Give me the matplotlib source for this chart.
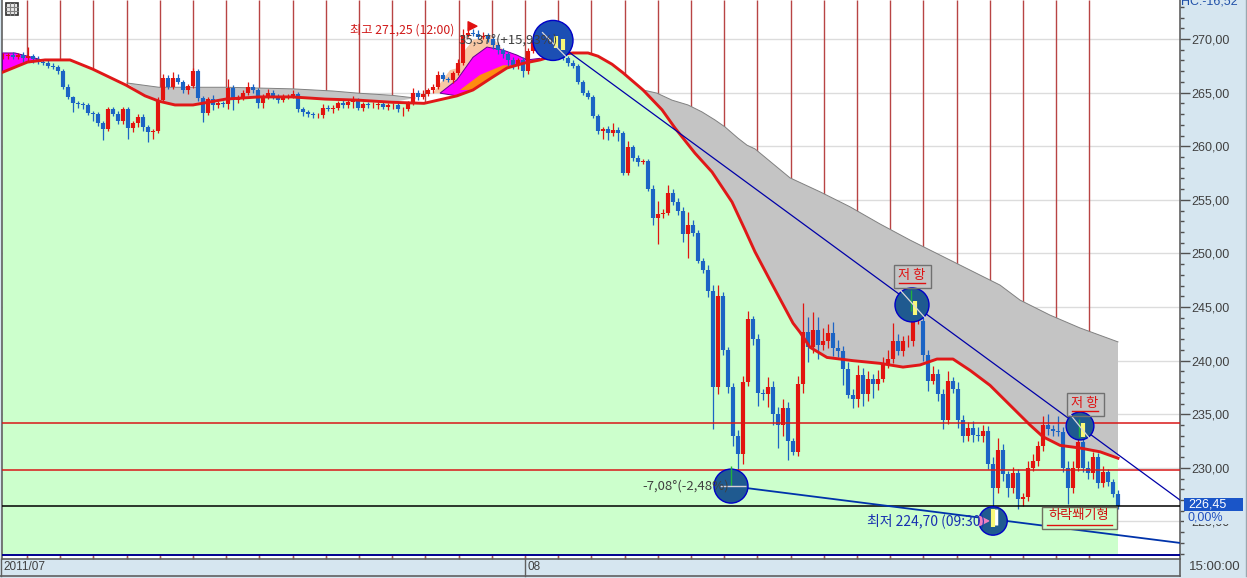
import numpy as np
import matplotlib
matplotlib.use("Agg")
import matplotlib.pyplot as plt
from matplotlib.patches import Rectangle
from matplotlib.ticker import FixedLocator, FuncFormatter

FONT = ['Noto Sans CJK KR', 'DejaVu Sans']
NARROW = ['Liberation Sans', 'DejaVu Sans']
plt.rcParams['font.family'] = FONT

closes = [
 268.4,268.5,268.3,268.5,268.2,268.4,268.1,267.9,267.8,267.5,267.4,267.0,265.5,264.6,264.0,263.9,263.8,263.1,263.0,262.2,
 261.6,263.5,263.0,262.4,263.5,261.7,262.2,262.7,261.8,261.3,261.4,264.3,266.4,265.5,266.4,266.0,265.2,265.6,267.0,264.5,
 263.1,264.4,263.8,264.0,263.9,265.4,264.3,264.6,265.0,265.5,265.2,264.0,264.6,265.0,264.7,264.3,264.6,264.7,264.9,263.5,
 263.2,263.0,262.9,262.9,263.6,263.5,263.6,264.0,263.8,264.1,264.3,263.6,263.9,263.8,263.8,263.9,263.7,263.8,263.8,263.5,
 263.5,264.0,265.0,264.6,264.9,265.2,265.5,266.6,266.3,266.2,266.8,267.8,270.4,270.6,270.5,270.2,270.3,270.0,269.4,269.0,
 268.6,268.0,267.6,268.0,267.0,268.9,269.9,269.6,270.0,269.5,269.0,268.6,268.2,267.8,267.5,266.0,265.0,264.6,262.8,261.4,
 261.6,261.2,261.5,261.2,257.5,259.9,258.9,258.5,258.6,256.0,253.3,253.7,253.8,255.6,254.8,254.0,251.8,252.7,251.9,249.3,
 248.5,246.5,237.5,246.0,241.0,237.5,233.0,231.3,238.0,243.9,242.0,237.0,236.9,237.5,235.0,234.0,235.6,232.5,231.5,237.8,
 242.7,241.3,242.9,241.5,241.8,242.6,241.2,240.9,239.2,236.8,236.4,238.7,236.9,238.3,237.8,238.3,239.7,240.2,241.8,240.9,
 241.8,241.8,243.7,243.7,240.5,238.1,238.8,236.9,234.5,238.1,237.4,234.5,233.0,233.7,233.1,233.0,233.4,230.4,228.1,231.7,
 229.4,228.1,229.5,227.1,227.3,230.0,230.6,232.0,234.0,233.6,233.4,233.3,230.0,228.1,230.0,232.4,230.0,229.5,231.0,228.6,229.6,228.7,227.6,226.45]

wick_up = [
 .3,.2,.3,.2,.3,.9,.2,.3,.2,.2,.3,.2,.2,.3,.1,.2,.2,.2,.2,.2,
 .2,.2,.2,.3,.2,.2,.2,.3,.3,.2,.2,.3,.3,.2,.5,.3,.2,.2,.3,.2,
 .2,.2,.4,.2,.2,.9,.3,.2,.2,.5,.3,.2,.3,.3,.2,.2,.3,.2,.3,.2,
 .2,.2,.2,.2,.3,.2,.2,.2,.3,.2,.4,.2,.2,.2,.3,.2,.2,.2,.2,.2,
 .2,.2,.4,.2,.3,.2,.3,.4,.3,.2,.2,.3,.5,.5,.3,.3,.4,.3,.3,.3,
 .2,.2,.3,.2,.3,.3,.2,.3,.4,.2,.2,.2,.2,.2,.2,.2,.2,.2,.2,.2,
 .2,.3,.7,.3,.2,.6,.2,.3,.2,.2,.4,1.2,.3,.8,.4,.4,.3,1.2,.4,.3,
 .3,.4,.6,1.1,.4,.3,.4,.5,.6,.7,.3,.5,.4,1.0,.6,.7,.8,.5,.3,.8,
 2.7,1.4,1.6,1.2,1.2,.8,1.0,.7,.5,.7,.6,.9,.6,.7,.5,.8,.6,.8,1.7,.7,
 .5,.6,1.6,.6,.5,.5,.7,.4,.5,.9,.4,.6,.4,.6,.7,.7,.6,.5,.6,1.1,
 .5,.3,.6,.4,.4,.6,.7,.5,.8,1.0,.4,1.4,.5,.6,.6,.6,.6,.6,.5,.4,.6,.3,.3,.3]

wick_dn = [
 .3,.3,.2,.2,.3,.3,.3,.2,.2,.2,.2,.3,.2,.2,.8,.3,.3,.2,.6,.3,
 1.0,.2,.2,.3,.3,1.0,.4,.4,.4,.9,.6,.2,.2,.2,.2,.2,.2,.3,.2,.3,
 .8,.2,.4,.2,.2,.4,.9,.3,.3,.2,.2,.4,.4,.2,.3,.3,.2,.2,.2,.3,
 .4,.3,.3,.3,.3,.2,.4,.2,.2,.2,.5,.2,.3,.2,.2,.3,.2,.3,.3,.3,
 .7,.2,.2,.3,.2,.2,.2,.2,.2,.2,.3,.2,.2,.2,.2,.2,.2,.3,.3,.4,
 .4,.5,.4,.4,.5,.3,.2,.2,.2,.2,.3,.2,.2,.3,.2,.2,.2,.2,.2,.3,
 .7,.6,.2,.7,.2,.2,.3,.3,.2,.2,.6,2.4,.4,.2,.3,.4,.7,2.2,.3,.2,
 .3,.6,3.9,.6,.5,.5,1.0,1.5,.9,.4,.5,1.2,.6,1.2,1.0,2.1,1.0,1.8,.3,.4,
 .8,1.4,.6,1.3,.5,.6,.8,.6,1.5,.3,.8,.7,1.1,.7,1.3,.5,.3,.4,.4,.4,
 .5,.5,.4,.3,.5,.9,.3,.7,.9,.4,.4,.8,.6,.5,.7,.5,.6,.5,2.0,.4,
 .6,.8,.4,.9,.7,.4,.3,.4,.4,.5,.4,.3,.4,1.5,.4,.3,.4,.5,.5,.5,.4,.4,.3,.3]

red_ma_x = [0,5,8.5,13.5,18,24.7,28.5,31.3,34.5,38.1,44.7,51.3,57.9,64.5,71.1,77.9,84.3,90.9,94.1,97.7,100.9,104.3,107.5,110.7,
            114.1,117.1,119.1,121.9,124.1,128.1,131.9,134.5,138.5,141.9,145.9,148.5,150.5,153.5,158.1,159.5,161.5,164.9,170.1,175.5,180.1,183.5,186.9,190.1,
            193.5,197.5,201.5,205.5,208.1,211.5,215.5,219.5,223.1]
red_ma = [266.9,267.85,268.05,268.05,267.2,265.7,264.7,264.2,263.85,263.85,264.4,264.6,264.6,264.4,264.3,264.1,264.0,264.7,265.25,266.35,267.3,267.75,268.05,268.5,
          268.7,268.7,268.4,267.65,266.85,265.25,263.4,261.7,259.35,257.6,254.8,252.2,250.15,247.5,243.5,242.65,241.25,240.3,240.0,239.75,239.4,239.6,240.15,240.15,
          239.1,237.7,235.85,234.0,232.9,232.1,231.85,231.5,230.9]

upper_left_x = [24.9,31.3,38.1,44.9,58.1,66.1,71.1,77.9,82.5]
upper_left = [265.9,265.5,265.5,265.5,265.35,265.15,264.95,264.75,264.5]
upper_right_x = [128.1,130.9,133.9,137.1,139.9,142.5,144.5,147.1,148.9,150.5,157.5,163.5,169.5,175.5,181.5,187.5,193.5,199.5,203.5,209.5,215.5,223.1]
upper_right = [265.25,264.95,264.3,263.85,263.2,262.45,261.8,260.75,260.1,259.75,257.05,255.75,254.35,252.75,251.25,249.85,248.45,247.05,245.65,244.25,243.05,241.75]

salmon_x = [86.1,89.5,91.1,92.5,94.1,97.5,100.1]
salmon = [264.95,267.1,267.3,268.97,269.9,270.4,268.97]
magenta_x = [87.5,90.9,94.1,96.9,100.1,102.9,104.9,107.5]
magenta = [264.95,266.2,268.3,269.25,268.97,268.5,268.05,268.2]
orange_x = [91.5,95.5,100.1,102.1]
orange = [265.25,266.65,267.55,267.55]
left_x = [0,2.5,5,7.5]
left_top = [268.7,268.7,268.4,268.1]

price_ticks = [225,230,235,240,245,250,255,260,265,270]
res_levels = [234.18,229.8]
last_price = 226.45
floor_level = 221.87

fig = plt.figure(figsize=(12.47,5.78),dpi=100,facecolor='#d6e6f0')
W,H = 1247,578
ax = fig.add_axes([2/W,1-559/H,1178/W,559/H],facecolor='white')
ax.set_xlim(-0.1,235.5)
ax.set_ylim(221.5,273.64)

n = len(closes)
bars = np.arange(n)
c = np.array(closes)
o = np.r_[c[0],c[:-1]]
top = np.maximum(o,c); bot = np.minimum(o,c)
hi = top+np.array(wick_up); lo = bot-np.array(wick_dn)
up = c>=o
RED,BLUE = '#e2140f','#1c64c4'

rx = np.array(red_ma_x); ry = np.array(red_ma)
vx = [4.9+6.64*k for k in range(33)]
ax.set_xticks(vx)
ax.vlines(vx,221.5,273.64,color='#b84444',lw=1,zorder=1)
for p in price_ticks:
    ax.axhline(p,color='#dcdcdc',lw=1,zorder=0.8)

# green area below the red average
ax.fill(np.r_[rx,rx[-1],rx[0]],np.r_[ry,221.9,221.9],color='#ccffcc',lw=0,zorder=2)

def band(tx,ty,c_,z,edge='none'):
    lo_x,hi_x = tx[0],tx[-1]
    m = (rx>=lo_x)&(rx<=hi_x)
    ax.fill(np.r_[tx,rx[m][::-1]],np.r_[ty,ry[m][::-1]],facecolor=c_,edgecolor=edge,lw=0.7,zorder=z)
band(upper_left_x,upper_left,'#c4c4c4',3)
band(upper_right_x,upper_right,'#c4c4c4',3)
ax.plot(upper_right_x,upper_right,color='#808080',lw=0.7,zorder=3)
ax.plot(upper_left_x,upper_left,color='#808080',lw=0.7,zorder=3)
mx,my = np.array(magenta_x),np.array(magenta)
m2 = (mx>salmon_x[0])&(mx<salmon_x[-1])
ax.fill(np.r_[salmon_x,mx[m2][::-1]],np.r_[salmon,my[m2][::-1]],color='#f8c8a4',lw=0,zorder=3.1)
band(magenta_x,magenta,'#ff00ff',3.2,'#600090')
band(orange_x,orange,'#ff8c10',3.3)
band(left_x,left_top,'#ff00ff',3.2,'#600090')

ax.vlines(bars,lo,hi,colors=[RED if u else BLUE for u in up],lw=0.9,zorder=4)
ax.vlines(bars,bot,top,colors=[RED if u else BLUE for u in up],lw=3.0,zorder=4.1)
ax.plot(rx,ry,color='#e01818',lw=2.1,zorder=4.5,solid_joinstyle='round')

ax.hlines(res_levels,-0.1,235.5,color='#d81818',lw=1.1,zorder=5)
ax.hlines(last_price,-0.1,235.5,color='black',lw=1.1,zorder=5)
ax.hlines(floor_level,-0.1,235.5,color='#000090',lw=1.4,zorder=5)

# trend lines
ax.plot([110.1,235.5],[269.87,227.0],color='#0000a8',lw=0.9,zorder=5.5)
ax.plot([145.7,235.5],[228.3,223.0],color='#0033aa',lw=1.3,zorder=5.5)

# circles
cb = [110.1,181.9,215.5,145.7,198.1]
cp = [269.87,245.2,233.9,228.3,225.05]
sz = [830,600,400,600,420]
cl = ['#1c4fb4','#1f5a90','#1f5a90','#1f5a90','#1f5a90']
ax.scatter(cb,cp,s=sz,c=cl,edgecolors='#0000c8',linewidths=1,zorder=6)
ax.vlines([145.7,181.7,215.2],[228.3,244.6,232.9],[230.2,246.6,234.6],color='#20b040',lw=1,zorder=6.2)
ax.hlines(228.3,143.5,148.7,color='#d8d0d8',lw=1,zorder=6.2)
ax.vlines([182.4,216,198.1,110.6,112],[244.3,232.9,224.5,269.2,269],[245.6,234.2,226.2,270.3,270],color='#f8f878',lw=3,zorder=6.3)
ax.vlines(198.6,224.7,226.2,color='white',lw=2.5,zorder=6.25)
ax.plot([108,112.6],[270.6,268.4],color='#dcd8d8',lw=0.9,zorder=6.4)
ax.plot([179.5,184.5],[246.6,244.0],color='#dcd8d8',lw=0.9,zorder=6.4)
ax.plot([213.5,217.5],[235,232.7],color='#dcd8d8',lw=0.9,zorder=6.4)
ax.scatter([94.0,196.3],[271.2,225.05],marker='>',s=[40,45],c=['#e01010','#f080c0'],zorder=6.5)

# axis
ax.yaxis.tick_right()
ax.yaxis.set_major_locator(FixedLocator(price_ticks))
ax.yaxis.set_minor_locator(FixedLocator(range(222,274)))
ax.yaxis.set_major_formatter(FuncFormatter(lambda v,_:f"{v:.2f}".replace('.',',')))
ax.tick_params(axis='y',which='major',length=7,width=1,color='#505050',labelsize=9,labelcolor='#404040',pad=1)
ax.tick_params(axis='y',which='minor',length=3,width=1,color='#505050')
ax.tick_params(axis='x',direction='in',length=2,width=1,color='#a06060',labelbottom=False)
for lab in ax.get_yticklabels():
    lab.set_family(NARROW)
ax.spines['top'].set_visible(False)
for s in ['left','right','bottom']:
    ax.spines[s].set_color('#606060')
    ax.spines[s].set_linewidth(1.2)

def T(x,y,s,**k):
    k.setdefault('va','center'); k.setdefault('family',FONT); k.setdefault('zorder',8)
    return fig.text(x/W,1-y/H,s,**k)

T(350,30,'최고 271,25 (12:00)',color='#d01818',fontsize=8.8)
T(459,40,'35,37°(+15,93%)',color='#404040',fontsize=9.5)
T(642,486,'-7,08°(-2,48%)',color='#404040',fontsize=9.5)
T(867,521,'최저 224,70 (09:30)',color='#1830b0',fontsize=10)
for x,y in [(912,276),(1085,404)]:
    T(x,y-1,'저 항',color='#e01010',fontsize=9.5,ha='center',zorder=9)
    fig.add_artist(Rectangle(((x-18)/W,1-(y+12)/H),37/W,23/H,transform=fig.transFigure,fc='none',ec='#707070',lw=1,zorder=8.5))
    fig.add_artist(plt.Line2D([(x-13)/W,(x+13)/W],[1-(y+7)/H]*2,color='#e01010',lw=1,zorder=10))
fig.add_artist(Rectangle((1042/W,1-529/H),75/W,22/H,transform=fig.transFigure,fc='#ccffcc',ec='#707060',lw=1,zorder=8.5))
T(1079,516,'하락쐐기형',color='#d01010',fontsize=9.5,ha='center',zorder=9)
fig.add_artist(plt.Line2D([1047/W,1112/W],[1-525/H]*2,color='#e01010',lw=1,zorder=10))

# top-left table icon
fig.add_artist(Rectangle((6/W,1-15/H),12/W,12/H,transform=fig.transFigure,fc='#e8e8e8',ec='#303030',lw=1.2,zorder=9))
for d in [4,8]:
    fig.add_artist(plt.Line2D([(6+d)/W]*2,[1-15/H,1-3/H],color='#808080',lw=0.8,zorder=10))
    fig.add_artist(plt.Line2D([6/W,18/W],[1-(3+d)/H]*2,color='#808080',lw=0.8,zorder=10))

# right panel labels
T(1181,2,'HC:-16,52',color='#2050a8',fontsize=9,family=NARROW)
fig.add_artist(Rectangle((1184/W,1-511/H),59/W,13/H,transform=fig.transFigure,fc='#1a55c8',ec='none',zorder=7))
T(1188,504.5,'226,45',color='white',fontsize=9,family=NARROW)
fig.add_artist(Rectangle((1184/W,1-524/H),50/W,12/H,transform=fig.transFigure,fc='#d6e6f0',ec='none',zorder=7))
T(1188,518,'0,00%',color='#2050c0',fontsize=9,family=NARROW)

# bottom strip
fig.add_artist(plt.Line2D([0,1180/W],[1-576/H]*2,color='#606060',lw=1.2))
fig.add_artist(plt.Line2D([1180/W]*2,[1-559/H,1-576/H],color='#606060',lw=1.2))
fig.add_artist(plt.Line2D([1246/W]*2,[1,1-576/H],color='#9aa8b0',lw=1))
fig.add_artist(plt.Line2D([525/W]*2,[1-559/H,1-576/H],color='#606060',lw=1))
fig.add_artist(plt.Line2D([1/W]*2,[1-559/H,1-576/H],color='#606060',lw=1))
T(3,567,'2011/07',color='#404040',fontsize=8.5,family=NARROW)
T(527,567,'08',color='#404040',fontsize=8.5,family=NARROW)
T(1189,567,'15:00:00',color='#404040',fontsize=9.5,family=NARROW)

fig.savefig('out.png',dpi=100,facecolor=fig.get_facecolor())
